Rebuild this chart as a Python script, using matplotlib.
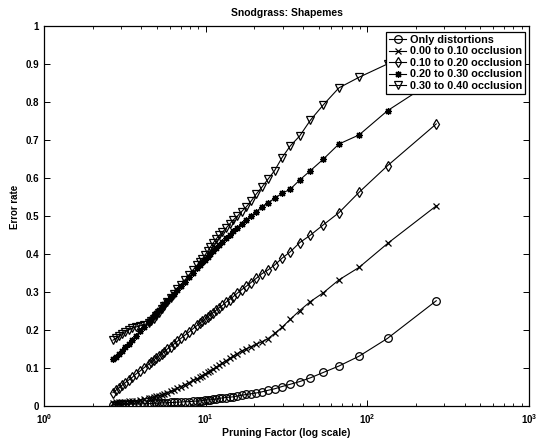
import matplotlib
matplotlib.use("Agg")
import matplotlib.pyplot as plt

plt.rcParams['font.family'] = ['Liberation Sans', 'DejaVu Sans']
plt.rcParams['font.weight'] = 'bold'
plt.rcParams['mathtext.default'] = 'bf'

# Pruning factor values (x)
pruning = [267, 133.5, 89, 66.75, 53.4, 44.5, 38.14, 33.38, 29.67, 26.7,
           24.27, 22.25, 20.54, 19.07, 17.8, 16.69, 15.71, 14.83, 14.05, 13.35,
           12.71, 12.14, 11.61, 11.13, 10.68, 10.27, 9.89, 9.54, 9.21, 8.9,
           8.34, 7.85, 7.42, 7.03, 6.68, 6.36, 6.07, 5.8, 5.56, 5.34,
           5.13, 4.94, 4.77, 4.6, 4.45, 4.17, 3.93, 3.71, 3.51, 3.34,
           3.18, 3.03, 2.9, 2.78, 2.67]

only_distortions = [0.276, 0.177, 0.130, 0.104, 0.087, 0.073, 0.063, 0.056, 0.050, 0.044,
                    0.040, 0.036, 0.033, 0.031, 0.029, 0.027, 0.025, 0.023, 0.022, 0.021,
                    0.020, 0.019, 0.017, 0.016, 0.015, 0.015, 0.014, 0.013, 0.012, 0.012,
                    0.011, 0.010, 0.010, 0.009, 0.009, 0.008, 0.008, 0.007, 0.007, 0.007,
                    0.006, 0.006, 0.006, 0.005, 0.005, 0.005, 0.004, 0.004, 0.004, 0.003,
                    0.003, 0.003, 0.003, 0.002, 0.002]

occ_00_10 = [0.526, 0.427, 0.364, 0.331, 0.297, 0.274, 0.250, 0.227, 0.206, 0.190,
             0.176, 0.168, 0.161, 0.155, 0.149, 0.144, 0.137, 0.130, 0.124, 0.118,
             0.112, 0.106, 0.101, 0.096, 0.092, 0.087, 0.083, 0.079, 0.075, 0.071,
             0.066, 0.060, 0.055, 0.050, 0.046, 0.041, 0.037, 0.034, 0.031, 0.028,
             0.026, 0.024, 0.022, 0.020, 0.019, 0.017, 0.015, 0.013, 0.012, 0.011,
             0.010, 0.009, 0.008, 0.008, 0.007]

occ_10_20 = [0.742, 0.632, 0.562, 0.508, 0.476, 0.449, 0.429, 0.405, 0.388, 0.370,
             0.357, 0.347, 0.335, 0.324, 0.314, 0.305, 0.296, 0.287, 0.279, 0.272,
             0.264, 0.258, 0.251, 0.245, 0.239, 0.233, 0.227, 0.222, 0.217, 0.212,
             0.202, 0.193, 0.185, 0.177, 0.169, 0.162, 0.155, 0.149, 0.142, 0.136,
             0.130, 0.125, 0.120, 0.114, 0.109, 0.100, 0.091, 0.083, 0.074, 0.067,
             0.060, 0.053, 0.046, 0.040, 0.034]

occ_20_30 = [0.860, 0.777, 0.713, 0.689, 0.649, 0.619, 0.594, 0.570, 0.559, 0.546,
             0.534, 0.524, 0.510, 0.499, 0.489, 0.479, 0.469, 0.459, 0.450, 0.441,
             0.432, 0.424, 0.416, 0.408, 0.400, 0.392, 0.384, 0.377, 0.370, 0.363,
             0.350, 0.338, 0.326, 0.315, 0.305, 0.295, 0.285, 0.276, 0.267, 0.259,
             0.251, 0.243, 0.235, 0.228, 0.221, 0.208, 0.196, 0.184, 0.173, 0.163,
             0.153, 0.144, 0.136, 0.129, 0.123]

occ_30_40 = [0.940, 0.900, 0.865, 0.837, 0.792, 0.752, 0.710, 0.684, 0.653, 0.619,
             0.596, 0.575, 0.557, 0.538, 0.523, 0.511, 0.499, 0.489, 0.478, 0.467,
             0.457, 0.448, 0.439, 0.428, 0.417, 0.406, 0.396, 0.386, 0.378, 0.371,
             0.357, 0.343, 0.330, 0.318, 0.306, 0.295, 0.284, 0.273, 0.263, 0.254,
             0.245, 0.236, 0.228, 0.222, 0.218, 0.213, 0.210, 0.207, 0.204, 0.200,
             0.195, 0.189, 0.183, 0.177, 0.172]

labels = ['Only distortions', '0.00 to 0.10 occlusion', '0.10 to 0.20 occlusion',
          '0.20 to 0.30 occlusion', '0.30 to 0.40 occlusion']
series = [only_distortions, occ_00_10, occ_10_20, occ_20_30, occ_30_40]
markers = ['o', 'x', 'd', (8, 2, 0), 'v']
msizes = [5.5, 4, 5.5, 5, 5.5]

fig = plt.figure(figsize=(5.4, 4.4), dpi=100)
ax = fig.add_axes([0.0815, 0.0784, 0.898, 0.8625])

for ys, lab, m, ms in zip(series, labels, markers, msizes):
    ax.plot(pruning, ys, color='black', linewidth=0.8, marker=m, markersize=ms,
            markerfacecolor='none', markeredgecolor='black', markeredgewidth=0.9,
            label=lab)

ax.set_xscale('log')
ax.set_xlim(1, 1000)
ax.set_ylim(0, 1)
ax.set_yticks([0, 0.1, 0.2, 0.3, 0.4, 0.5, 0.6, 0.7, 0.8, 0.9, 1])
ax.set_yticklabels(['0', '0.1', '0.2', '0.3', '0.4', '0.5', '0.6', '0.7', '0.8', '0.9', '1'])

ax.tick_params(which='both', direction='in', top=True, right=True, labelsize=7)
ax.tick_params(which='major', length=4, width=0.7)
ax.tick_params(which='minor', length=2, width=0.6)
ax.tick_params(axis='x', which='major', pad=5)
for s in ax.spines.values():
    s.set_linewidth(0.9)

ax.set_title('Snodgrass: Shapemes', fontsize=7.5, fontweight='bold', pad=7)
ax.set_xlabel('Pruning Factor (log scale)', fontsize=7.5, fontweight='bold', labelpad=1)
ax.set_ylabel('Error rate', fontsize=7, fontweight='bold')
ax.yaxis.set_label_coords(-0.049, 0.523)

leg = ax.legend(loc='upper right', bbox_to_anchor=(0.992, 0.984),
                prop={'size': 7.8, 'weight': 'bold'},
                numpoints=1, fancybox=False, framealpha=1, edgecolor='black',
                handlelength=1.6, handletextpad=0.35, borderpad=0.25,
                labelspacing=0.14, borderaxespad=0)
leg.get_frame().set_linewidth(0.9)

fig.savefig('out.png', dpi=100)
